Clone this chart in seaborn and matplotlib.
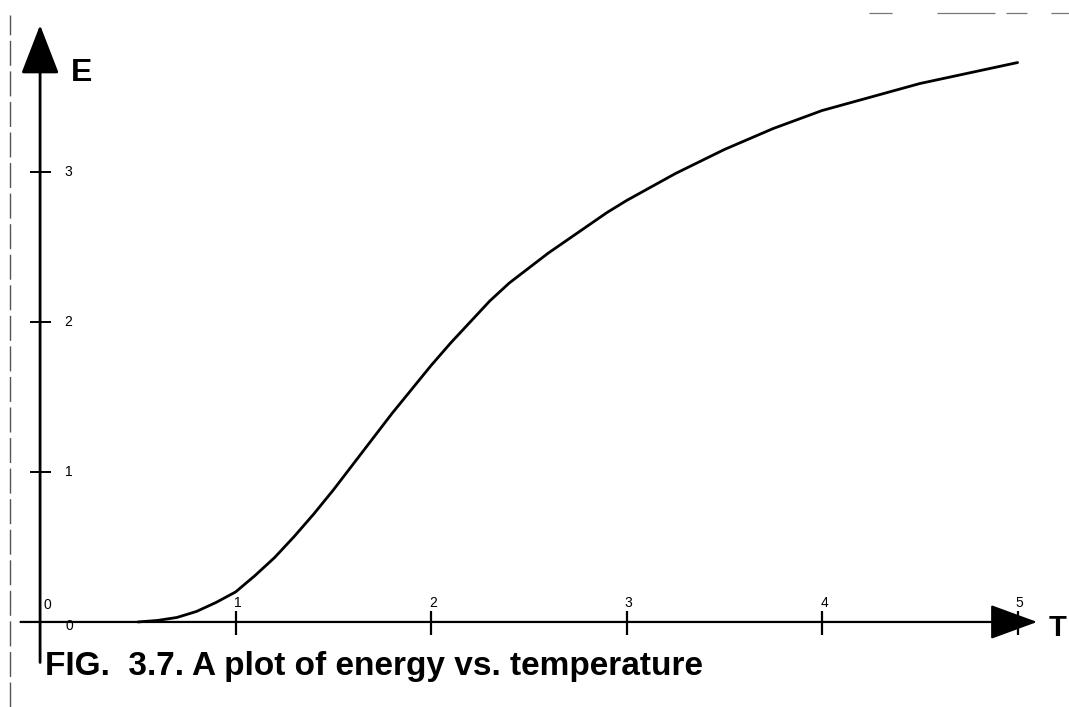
import matplotlib
matplotlib.use("Agg")
import matplotlib.pyplot as plt
import seaborn as sns
import pandas as pd

# Energy E as a function of temperature T
temperature = [0.5, 0.6, 0.7, 0.8, 0.9, 1.0, 1.1, 1.2, 1.3, 1.4, 1.5, 1.6, 1.7,
               1.8, 1.9, 2.0, 2.1, 2.2, 2.3, 2.4, 2.5, 2.6, 2.7, 2.8, 2.9, 3.0,
               3.25, 3.5, 3.75, 4.0, 4.25, 4.5, 4.75, 5.0]
energy = [0.0, 0.01, 0.03, 0.07, 0.13, 0.20, 0.31, 0.43, 0.57, 0.72, 0.88, 1.05,
          1.22, 1.39, 1.55, 1.71, 1.86, 2.00, 2.14, 2.26, 2.36, 2.46, 2.55, 2.64,
          2.73, 2.81, 2.99, 3.15, 3.29, 3.41, 3.50, 3.59, 3.66, 3.73]

x_ticks = [1, 2, 3, 4, 5]
x_tick_labels = ["1", "2", "3", "4", "5"]
y_ticks = [1, 2, 3]
y_tick_labels = ["1", "2", "3"]

caption = "FIG.  3.7. A plot of energy vs. temperature"

sns.set_style("white")
plt.rcParams["font.family"] = ["Liberation Sans", "DejaVu Sans"]
plt.rcParams["text.color"] = "black"

fig = plt.figure(figsize=(10.69, 7.07), dpi=100)
ax = fig.add_axes([0, 0, 1, 1])
ax.set_xlim(-0.205, 5.263)
ax.set_ylim(-0.567, 4.147)
ax.axis("off")

df = pd.DataFrame({"T": temperature, "E": energy})
sns.lineplot(data=df, x="T", y="E", ax=ax, color="black", lw=2.0, sort=True)

# axes drawn as arrows through the origin
ax.annotate("", xy=(0, 3.98), xytext=(0, -0.27),
            arrowprops=dict(arrowstyle="-|>,head_length=3.1,head_width=1.2",
                            lw=2.0, color="black", shrinkA=0, shrinkB=0,
                            mutation_scale=10))
ax.annotate("", xy=(5.10, 0), xytext=(-0.10, 0),
            arrowprops=dict(arrowstyle="-|>,head_length=3.0,head_width=1.1",
                            lw=1.6, color="black", shrinkA=0, shrinkB=0,
                            mutation_scale=10))

# tick marks and labels
ax.vlines(x_ticks, -0.09, 0.07, color="black", lw=1.6)
for xv, lab in zip(x_ticks, x_tick_labels):
    ax.text(xv + 0.01, 0.08, lab, ha="center", va="bottom", fontsize=10,
            color="black")
ax.hlines(y_ticks, -0.05, 0.056, color="black", lw=1.4)
for yv, lab in zip(y_ticks, y_tick_labels):
    ax.text(0.125, yv, lab, ha="left", va="center", fontsize=10, color="black")
ax.text(0.02, 0.11, "0", ha="left", va="center", fontsize=10, color="black")
ax.text(0.13, -0.03, "0", ha="left", va="center", fontsize=10, color="black")

# axis names
ax.text(0.16, 3.66, "E", ha="left", va="center", fontsize=23,
        fontweight="bold", color="black")
ax.text(5.16, -0.04, "T", ha="left", va="center", fontsize=21,
        fontweight="bold", color="black")

# caption
ax.text(0.025, -0.30, caption, ha="left", va="center", fontsize=24,
        fontweight="bold", color="black")

# page edge rules
ax.vlines([-0.152], -0.567, 4.05, color="#555555", lw=1.0,
          linestyles=[(0, (18, 4))])
ax.hlines([4.06] * 4, [4.24, 4.59, 4.94, 5.17], [4.36, 4.885, 5.05, 5.263],
          color="#777777", lw=0.9)

fig.savefig("out.png", dpi=100)
